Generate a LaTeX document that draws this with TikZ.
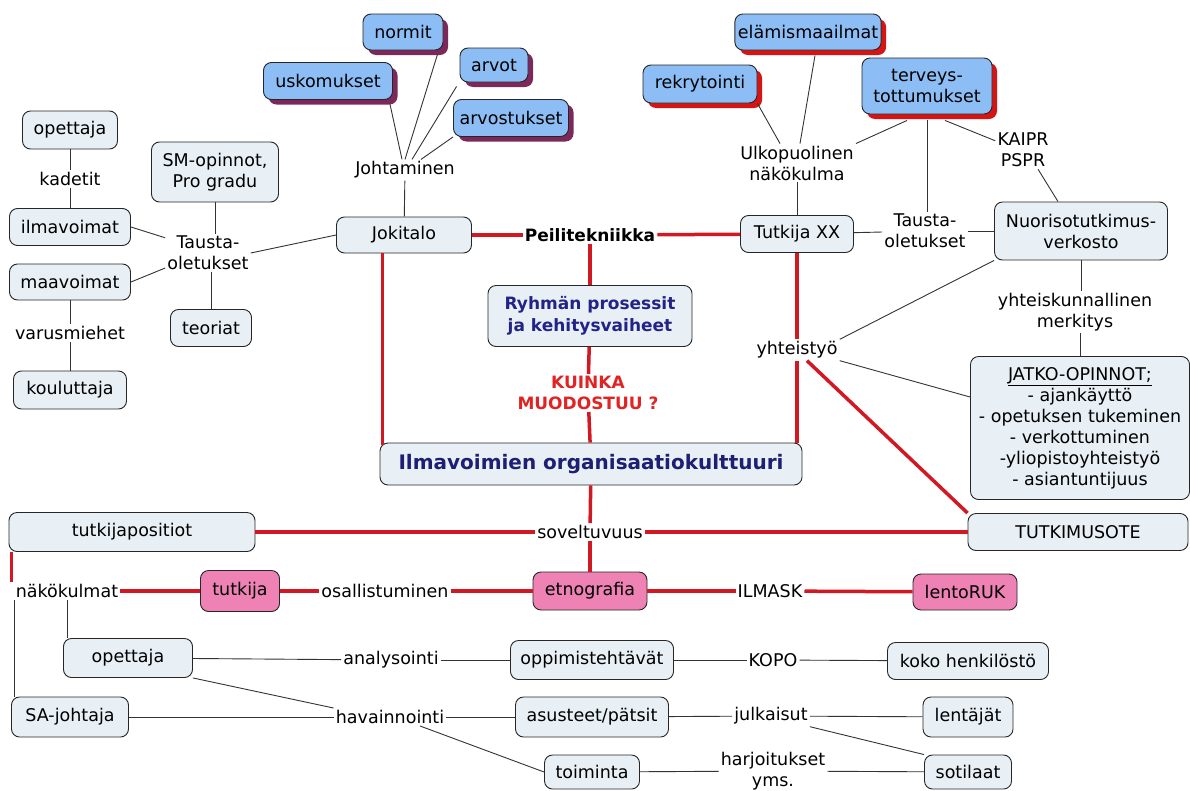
\documentclass[tikz,border=0pt]{standalone}
\usepackage{fontspec}
\setmainfont{DejaVu Sans}
\usetikzlibrary{shadows}

\definecolor{boxfill}{RGB}{232,240,246}
\definecolor{bluefill}{RGB}{140,190,245}
\definecolor{pinkfill}{RGB}{238,130,180}
\definecolor{purpleshadow}{RGB}{125,40,90}
\definecolor{redshadow}{RGB}{215,20,20}
\definecolor{linkred}{RGB}{210,25,35}
\definecolor{navytext}{RGB}{35,35,135}
\definecolor{kuinkared}{RGB}{225,35,35}

\tikzset{
    box/.style={draw=black!85, line width=0.9pt, rounded corners=8pt, fill=boxfill,
        align=center, inner sep=3pt, minimum height=37pt},
    pinkbox/.style={box, fill=pinkfill},
    purplebox/.style={box, fill=bluefill,
        general shadow={fill=purpleshadow, shadow xshift=5pt, shadow yshift=-5pt}},
    redbox/.style={box, fill=bluefill,
        general shadow={fill=redshadow, shadow xshift=5pt, shadow yshift=-5pt}},
    thinlink/.style={draw=black!80, line width=0.9pt},
    redlink/.style={draw=linkred, line width=3.5pt}
}

\begin{document}
\begin{tikzpicture}[x=1pt, y=-1pt, font=\fontsize{17.5}{21}\selectfont]
        \useasboundingbox (0,0) rectangle (1190,790);
        % boxes
        \begin{scope}
            \node[box, minimum width=95pt, minimum height=38pt] (opettaja1) at (70,130) {opettaja};
            \node[box, minimum width=121pt] (ilmavoimat) at (70,227) {ilmavoimat};
            \node[box, minimum width=121pt, minimum height=36pt] (maavoimat) at (70,282) {maavoimat};
            \node[box, minimum width=113pt, minimum height=38pt] (kouluttaja) at (70,390) {kouluttaja};
            \node[box, minimum width=127pt, minimum height=60pt] (smopinnot) at (215,172) {SM-opinnot,\\Pro gradu};
            \node[box, minimum width=81pt] (teoriat) at (211,328) {teoriat};
            \node[box, minimum width=135pt, minimum height=36pt] (jokitalo) at (404,235) {Jokitalo};
            \node[box, minimum width=204pt, minimum height=61pt, text=navytext,
                font=\fontsize{17}{22}\selectfont\bfseries] (ryhma) at (590,316) {Ryhmän prosessit\\ja kehitysvaiheet};
            \node[box, minimum width=422pt, minimum height=42pt, text=navytext!85!black,
                font=\fontsize{20}{24}\selectfont\bfseries] (kulttuuri) at (591,464) {Ilmavoimien organisaatiokulttuuri};
            \node[box, minimum width=113pt] (tutkijaxx) at (797,234) {Tutkija XX};
            \node[box, minimum width=173pt, minimum height=58pt] (nuoriso) at (1081,231) {Nuorisotutkimus-\\verkosto};
            \node[box, minimum width=219pt, minimum height=143pt] (jatko) at (1080,428)
                {\underline{JATKO-OPINNOT;}\\- ajankäyttö\\- opetuksen tukeminen\\- verkottuminen\\-yliopistoyhteistyö\\- asiantuntijuus};
            \node[box, minimum width=220pt] (tutkimusote) at (1078,532) {TUTKIMUSOTE};
            \node[box, minimum width=246pt, minimum height=39pt] (positiot) at (132,532) {tutkijapositiot};
            \node[box, minimum width=129pt, minimum height=39pt] (opettaja2) at (128,658) {opettaja};
            \node[box, minimum width=117pt, minimum height=40pt] (sajohtaja) at (70,717) {SA-johtaja};
            \node[box, minimum width=163pt, minimum height=39pt] (oppimis) at (592,660) {oppimistehtävät};
            \node[box, minimum width=153pt, minimum height=40pt] (asusteet) at (592,717) {asusteet/pätsit};
            \node[box, minimum width=95pt, minimum height=34pt] (toiminta) at (592,772) {toiminta};
            \node[box, minimum width=161pt] (koko) at (968,661) {koko henkilöstö};
            \node[box, minimum width=90pt, minimum height=40pt] (lentajat) at (968,717) {lentäjät};
            \node[box, minimum width=87pt, minimum height=34pt] (sotilaat) at (968,772) {sotilaat};
        \end{scope}
        \begin{scope}
            \node[pinkbox, minimum width=79pt, minimum height=41pt] (tutkija) at (240,591) {tutkija};
            \node[pinkbox, minimum width=114pt, minimum height=38pt] (etnografia) at (590,591) {etnografia};
            \node[pinkbox, minimum width=104pt, minimum height=36pt] (lentoruk) at (965,592) {lentoRUK};
            \node[purplebox, minimum width=80pt, minimum height=36pt] (normit) at (403,32) {normit};
            \node[purplebox, minimum width=129pt] (uskomukset) at (328,81) {uskomukset};
            \node[purplebox, minimum width=68pt, minimum height=34pt] (arvot) at (494,65) {arvot};
            \node[purplebox, minimum width=115pt] (arvostukset) at (511,118) {arvostukset};
            \node[redbox, minimum width=114pt, minimum height=38pt] (rekry) at (700,84) {rekrytointi};
            \node[redbox, minimum width=145pt, minimum height=36pt] (elamis) at (808,32) {elämismaailmat};
            \node[redbox, minimum width=130pt, minimum height=56pt] (terveys) at (927,86) {terveys-\\tottumukset};
        \end{scope}
        % link words
        \begin{scope}[every node/.style={inner sep=2pt, align=center}]
            \node (kadetit) at (70,179) {kadetit};
            \node (varus) at (70,333) {varusmiehet};
            \node (taustaL) at (208,253) {Tausta-\\oletukset};
            \node (johtaminen) at (405,170) {Johtaminen};
            \node[font=\fontsize{17}{21}\selectfont\bfseries] (peili) at (590,235) {Peilitekniikka};
            \node[text=kuinkared, font=\fontsize{17}{21}\selectfont\bfseries] (kuinka) at (588,393) {KUINKA\\MUODOSTUU ?};
            \node (ulko) at (797,163) {Ulkopuolinen\\näkökulma};
            \node (kaipr) at (1023,150) {KAIPR\\PSPR};
            \node (taustaR) at (925,231) {Tausta-\\oletukset};
            \node (merkitys) at (1075,312) {yhteiskunnallinen\\merkitys};
            \node (yhteistyo) at (797,350) {yhteistyö};
            \node (soveltuvuus) at (590,532) {soveltuvuus};
            \node (nakokulmat) at (67,591) {näkökulmat};
            \node (osallist) at (385,591) {osallistuminen};
            \node (ilmask) at (770,591) {ILMASK};
            \node (analysointi) at (391,660) {analysointi};
            \node (kopo) at (773,660) {KOPO};
            \node (havainnointi) at (390,717) {havainnointi};
            \node (julkaisut) at (771,716) {julkaisut};
            \node (harjoitukset) at (773,771) {harjoitukset\\yms.};
        \end{scope}
        % black links
        \path[thinlink] (opettaja1) edge (kadetit) (kadetit) edge (ilmavoimat)
            (maavoimat) edge (varus) (varus) edge (kouluttaja)
            (ilmavoimat.east) edge ([yshift=-4pt]taustaL.north west)
            (maavoimat.east) edge ([yshift=-15pt]taustaL.west)
            (smopinnot.south) edge (smopinnot.south |- taustaL.north)
            (taustaL.south -| teoriat.north) edge (teoriat.north)
            (taustaL.east) edge (jokitalo.west);
        \path[thinlink] ([xshift=-3pt,yshift=-4pt]uskomukset.south east) edge ([xshift=-3pt]johtaminen.north)
            ([xshift=-6pt,yshift=-4pt]normit.south east) edge (johtaminen.north)
            ([xshift=-3pt,yshift=-4pt]arvot.south west) edge ([xshift=7pt]johtaminen.north)
            (arvostukset.south west) edge ([xshift=16pt]johtaminen.north)
            (johtaminen) edge (jokitalo);
        \path[thinlink] (rekry.south east) edge ([xshift=-17pt]ulko.north)
            ([xshift=7pt,yshift=-5pt]elamis.south) edge ([xshift=3pt]ulko.north)
            ([xshift=-20pt,yshift=-6pt]terveys.south) edge (ulko.north east)
            (ulko) edge (tutkijaxx)
            ([yshift=-6pt]terveys.south) edge (terveys.south |- taustaR.north)
            ([xshift=18pt,yshift=-6pt]terveys.south) edge ([yshift=-10pt]kaipr.north west)
            ([xshift=15pt]kaipr.south) edge ([xshift=-23pt]nuoriso.north)
            (tutkijaxx) edge (taustaR) (taustaR) edge (nuoriso)
            (nuoriso.south) edge (nuoriso.south |- merkitys.north)
            (merkitys.south -| jatko.north) edge (jatko.north)
            (nuoriso.south west) edge (yhteistyo.north east)
            (yhteistyo.south east) edge ([yshift=31pt]jatko.west);
        \path[thinlink] (nakokulmat.south) edge (nakokulmat.south |- opettaja2.north)
            ([xshift=1pt]nakokulmat.south west) edge ([xshift=1pt]nakokulmat.south west |- sajohtaja.north)
            (opettaja2) edge (analysointi) (analysointi) edge (oppimis)
            (opettaja2.south east) edge (havainnointi.north west)
            (sajohtaja) edge (havainnointi) (havainnointi) edge (asusteet)
            ([xshift=30pt]havainnointi.south) edge (toiminta.west)
            (oppimis) edge (kopo) (kopo) edge (koko)
            (asusteet) edge (julkaisut) (julkaisut) edge (lentajat)
            (julkaisut.south east) edge (sotilaat.north west)
            (toiminta) edge (harjoitukset) (harjoitukset) edge (sotilaat);
        % red links
        \path[redlink] (jokitalo) edge (peili) (peili) edge (tutkijaxx)
            (peili) edge (ryhma) (ryhma) edge (kuinka) (kuinka) edge (kulttuuri)
            ([xshift=3pt]jokitalo.south -| kulttuuri.west) edge ([xshift=3pt,yshift=-2pt]kulttuuri.north west)
            (tutkijaxx) edge (yhteistyo)
            (yhteistyo.south) edge (yhteistyo.south |- kulttuuri.north)
            ([xshift=10pt]yhteistyo.south) edge (tutkimusote.north west)
            (kulttuuri) edge (soveltuvuus)
            (positiot) edge (soveltuvuus) (soveltuvuus) edge (tutkimusote)
            (soveltuvuus) edge (etnografia)
            ([xshift=3pt]positiot.south west) edge ([xshift=3pt]positiot.south west |- nakokulmat.north)
            (nakokulmat) edge (tutkija) (tutkija) edge (osallist) (osallist) edge (etnografia)
            (etnografia) edge (ilmask) (ilmask) edge (lentoruk);
\end{tikzpicture}
\end{document}
